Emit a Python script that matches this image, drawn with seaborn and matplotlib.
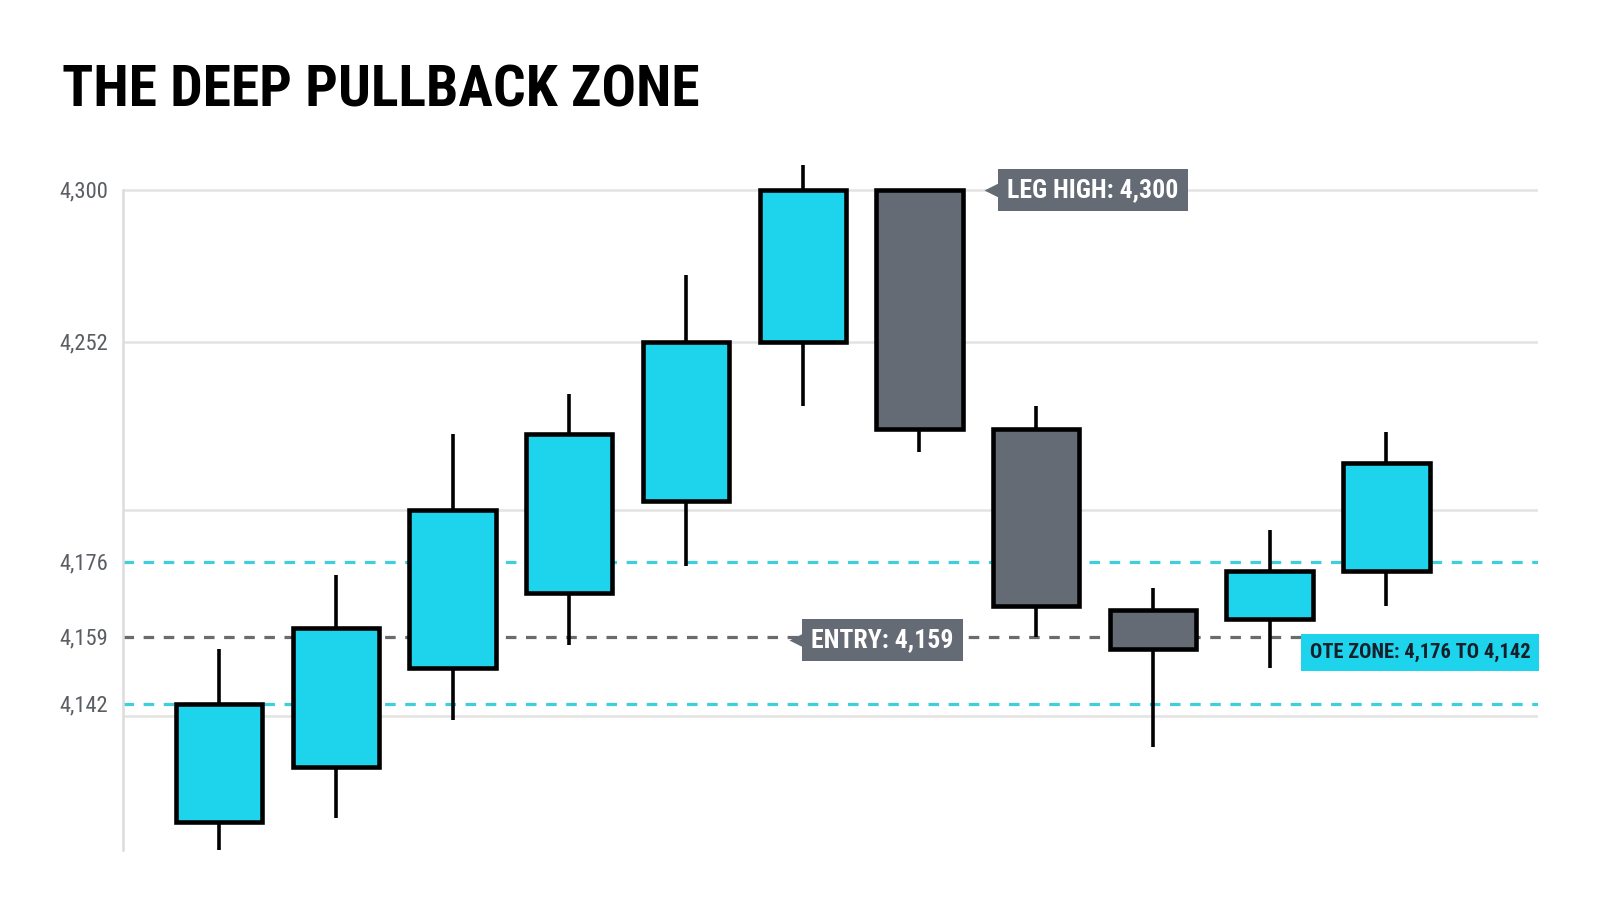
import os
import numpy as np
import matplotlib
matplotlib.use("Agg")
import matplotlib.pyplot as plt
from matplotlib import font_manager
import seaborn as sns

# candle data
opens  = [4112, 4126, 4151, 4169, 4197, 4252, 4300, 4222, 4165, 4163, 4174]
closes = [4142, 4161, 4194, 4220, 4252, 4300, 4222, 4166, 4156, 4174, 4210]
highs  = [4156, 4173, 4220, 4234, 4273, 4308, 4300, 4230, 4170, 4187, 4221]
lows   = [4105, 4113, 4138, 4157, 4175, 4230, 4214, 4159, 4131, 4151, 4166]

tick_values = [4142, 4159, 4176, 4252, 4300]
grid_values = [4139, 4194, 4252, 4300]
ote_top, ote_bottom = 4176, 4142
entry_level = 4159
leg_high = 4300

# the axis of the original is not evenly spaced, so use a piecewise scale
scale_vals = np.array([4100, 4142, 4159, 4176, 4252, 4300, 4330])
scale_pos = np.array([0, 166, 233, 308, 528, 680, 775])

def fwd(v):
    return np.interp(v, scale_vals, scale_pos)

def inv(p):
    return np.interp(p, scale_pos, scale_vals)

# look for a condensed font on the machine
files = {}
for f in font_manager.fontManager.ttflist:
    key = os.path.basename(f.fname).lower().replace("-", "").replace("_", "")
    files[key] = f.fname

def pick(names):
    for n in names:
        if n in files:
            return files[n]
    return None

bold_file = pick(["robotocondensedbold.ttf", "liberationsansnarrowbold.ttf",
                  "notosanscondensedbold.ttf", "dejavusanscondensedbold.ttf"])
reg_file = pick(["robotocondensedregular.ttf", "liberationsansnarrowregular.ttf",
                 "notosanscondensed.ttf", "dejavusanscondensed.ttf"])

def fp(bold, size):
    path = bold_file if bold else reg_file
    if path:
        return font_manager.FontProperties(fname=path, size=size)
    return font_manager.FontProperties(family="Roboto", size=size * 0.85,
                                       weight="bold" if bold else "normal")

CYAN = "#1ED3EC"
GREY = "#646B75"
DASH_CYAN = "#3FCFDC"
DASH_GREY = "#6B6B6B"

sns.set_theme(style="white")
plt.rcParams["font.family"] = ["Roboto", "DejaVu Sans"]

fig = plt.figure(figsize=(16, 9.14), dpi=100)
ax = fig.add_axes([0.0769, 0.070, 0.8844, 0.7659])
ax.set_yscale("function", functions=(fwd, inv))

x = np.arange(len(opens))
o = np.array(opens)
c = np.array(closes)
bottoms = np.minimum(o, c)
heights = np.abs(c - o)
colors = [CYAN if cl > op else GREY for op, cl in zip(opens, closes)]

# grid + levels
for g in grid_values:
    ax.axhline(g, color="#e3e3e3", lw=1.8, zorder=0)
ax.axhline(ote_top, color=DASH_CYAN, lw=2.3, ls=(0, (3.3, 3)), zorder=1)
ax.axhline(ote_bottom, color=DASH_CYAN, lw=2.3, ls=(0, (3.3, 3)), zorder=1)
ax.axhline(entry_level, color=DASH_GREY, lw=2.3, ls=(0, (3.3, 3)), zorder=1)

# wicks and bodies
ax.vlines(x, lows, highs, color="black", lw=2.6, zorder=2)
ax.bar(x, heights, bottom=bottoms, width=0.74, color=colors,
       edgecolor="black", linewidth=3.3, zorder=3)

ax.set_xlim(-0.823, 11.30)
ax.set_ylim(4105, 4312.6)
ax.set_xticks([])
ax.set_yticks(tick_values)
ax.set_yticklabels([f"{v:,}" for v in tick_values])
ax.tick_params(axis="y", length=0, pad=11, labelcolor="#5a5e63")
for lab in ax.get_yticklabels():
    lab.set_fontproperties(fp(False, 16.2))

sns.despine(ax=ax, top=True, right=True, bottom=True)
ax.spines["left"].set_color("#dcdcdc")
ax.spines["left"].set_linewidth(1.8)
ax.spines["left"].set_bounds(4105, 4300)

# tag labels
ax.text(6.75, leg_high, "LEG HIGH: 4,300", color="white", fontproperties=fp(True, 18.5),
        ha="left", va="center", zorder=6,
        bbox=dict(boxstyle="square,pad=0.36", fc=GREY, ec="none"))
ax.plot(6.61, leg_high, marker="<", ms=9.5, color=GREY, mec="none", zorder=6)

ax.text(5.075, 4158.2, "ENTRY: 4,159", color="white", fontproperties=fp(True, 18.5),
        ha="left", va="center", zorder=6,
        bbox=dict(boxstyle="square,pad=0.36", fc=GREY, ec="none"))
ax.plot(4.94, 4158.2, marker="<", ms=9.5, color=GREY, mec="none", zorder=6)

ax.text(11.235, 4155.0, "OTE ZONE: 4,176 TO 4,142", color="#15202b",
        fontproperties=fp(True, 14.8), ha="right", va="center", zorder=6,
        bbox=dict(boxstyle="square,pad=0.42", fc=CYAN, ec="none"))

fig.text(0.039, 0.883, "THE DEEP PULLBACK ZONE", fontproperties=fp(True, 41.5),
         color="black", ha="left", va="baseline")

fig.savefig("out.png", dpi=100, facecolor="white")
